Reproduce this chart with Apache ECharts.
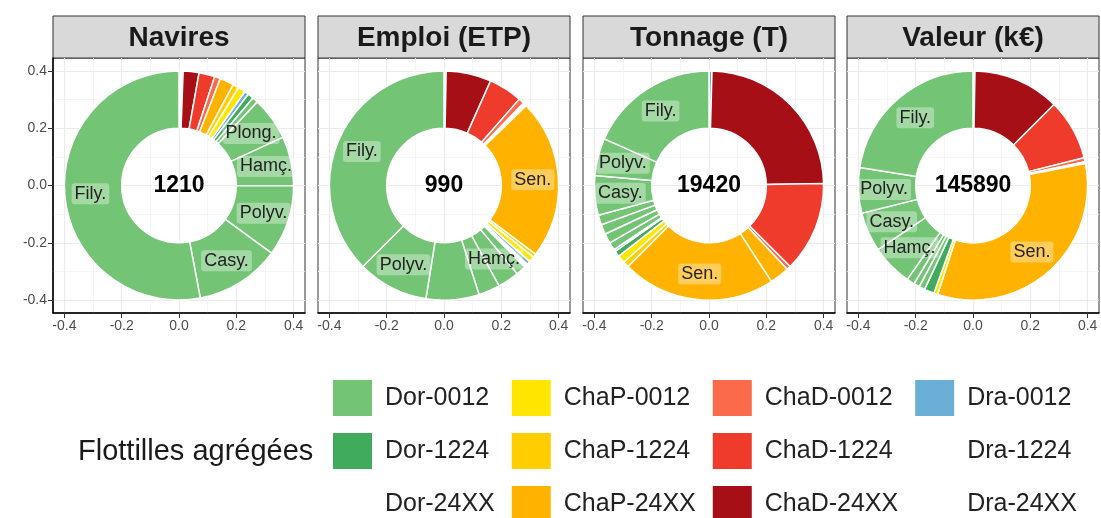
<!DOCTYPE html>
<html>
<head>
<meta charset="utf-8">
<script src="https://cdn.jsdelivr.net/npm/echarts@6/dist/echarts.min.js"></script>
<style>
  html, body { margin: 0; padding: 0; background: #fff; }
  #chart { width: 1101px; height: 518px; }
</style>
</head>
<body>
<div id="chart"></div>
<script>
// facettes et totaux affichés au centre
const panels = ['Navires', 'Emploi (ETP)', 'Tonnage (T)', 'Valeur (k€)'];
const totals = [1210, 990, 19420, 145890];

// flottilles agrégées (ordre de la légende) et couleurs
const flottilles = ['Dor-0012', 'Dor-1224', 'Dor-24XX', 'ChaP-0012', 'ChaP-1224', 'ChaP-24XX',
  'ChaD-0012', 'ChaD-1224', 'ChaD-24XX', 'Dra-0012', 'Dra-1224', 'Dra-24XX'];
const couleurs = ['#74C476', '#41AB5D', '#FFFFFF', '#FFE600', '#FFCD00', '#FFB300',
  '#FB6A4A', '#EF3B2C', '#A50F15', '#6BAED6', '#FFFFFF', '#FFFFFF'];

// graduations
const majorTicks = [-0.4, -0.2, 0, 0.2, 0.4];
const minorTicks = [-0.3, -0.1, 0.1, 0.3];

// Navires
const navFlot = ['Dra-24XX', 'ChaD-24XX', 'ChaD-1224', 'ChaD-0012', 'ChaP-24XX', 'ChaP-1224', 'ChaP-0012',
  'Dra-0012', 'Dor-1224', 'Dor-0012', 'Dor-0012', 'Dor-0012', 'Dor-0012', 'Dor-0012', 'Dor-0012'];
const navMetier = ['', '', '', '', '', '', '', '', '', '', 'Plong.', 'Hamç.', 'Polyv.', 'Casy.', 'Fily.'];
const navValues = [7, 27, 27, 10, 24, 10, 13, 7, 10, 10, 74, 84, 121, 145, 641];

// Emploi (ETP)
const empFlot = ['Dra-0012', 'ChaD-24XX', 'ChaD-1224', 'ChaD-0012', 'Dra-1224', 'ChaP-24XX', 'ChaP-1224',
  'ChaP-0012', 'Dra-0012', 'Dor-24XX', 'Dor-0012', 'Dor-0012', 'Dor-0012', 'Dor-0012', 'Dor-0012', 'Dor-0012'];
const empMetier = ['', '', '', '', '', 'Sen.', '', '', '', '', '', 'Hamç.', '', 'Casy.', 'Polyv.', 'Fily.'];
const empValues = [3, 63, 47, 8, 5, 223, 5, 8, 5, 5, 14, 30, 30, 74, 99, 371];

// Tonnage (T)
const tonFlot = ['Dra-0012', 'ChaD-24XX', 'ChaD-1224', 'ChaD-0012', 'ChaP-24XX', 'ChaP-24XX', 'ChaP-1224',
  'ChaP-0012', 'Dor-1224', 'Dra-0012', 'Dor-0012', 'Dor-0012', 'Dor-0012', 'Dor-0012', 'Dor-0012', 'Dor-0012', 'Dor-0012'];
const tonMetier = ['', '', '', '', '', 'Sen.', '', '', '', '', '', '', '', '', 'Casy.', 'Polyv.', 'Fily.'];
const tonValues = [81, 4720, 2481, 108, 539, 4207, 162, 216, 162, 54, 216, 270, 270, 270, 1079, 1025, 3560];

// Valeur (k€)
const valFlot = ['Dra-1224', 'ChaD-24XX', 'ChaD-1224', 'ChaD-0012', 'Dra-24XX', 'ChaP-24XX', 'ChaP-0012',
  'Dor-1224', 'Dor-0012', 'Dor-0012', 'Dor-0012', 'Dor-0012', 'Dor-0012', 'Dor-0012', 'Dor-0012'];
const valMetier = ['', '', '', '', '', 'Sen.', '', '', '', '', '', 'Hamç.', 'Casy.', 'Polyv.', 'Fily.'];
const valValues = [405, 17831, 12563, 810, 405, 48225, 810, 2026, 1216, 1216, 1621, 8510, 8105, 9321, 32826];

const panelFlot = [navFlot, empFlot, tonFlot, valFlot];
const panelMetier = [navMetier, empMetier, tonMetier, valMetier];
const panelValues = [navValues, empValues, tonValues, valValues];

// mise en page
const font = '"Liberation Sans", Arial, sans-serif';
const panelLeft = [53, 318, 583, 847];
const panelTop = 58, panelW = 252, panelH = 255;
const stripTop = 16, stripH = 42;
const yLim = 0.445;
const xLim = yLim * panelW / panelH; // même échelle sur les deux axes
const ppu = panelH / (2 * yLim); // pixels par unité
const r0 = 0.2, r1 = 0.4; // rayons de l'anneau

const chart = echarts.init(document.getElementById('chart'));

function minorAxis (i, lim, pos) {
  return {
    type: 'value', gridIndex: i, min: -lim, max: lim, position: pos,
    axisLine: { show: false, onZero: false },
    axisTick: { show: false, customValues: minorTicks },
    axisLabel: { show: false, customValues: minorTicks },
    splitLine: { show: true, lineStyle: { color: '#F3F3F3', width: 0.8 } }
  };
}

function majorAxis (i, lim, pos, showAxis) {
  return {
    type: 'value', gridIndex: i, min: -lim, max: lim, position: pos,
    axisLine: { show: showAxis, onZero: false, lineStyle: { color: '#000', width: 1.5 } },
    axisTick: { show: showAxis, length: 5, customValues: majorTicks, lineStyle: { color: '#333' } },
    axisLabel: {
      show: showAxis, customValues: majorTicks, margin: 6,
      fontSize: 14, color: '#4D4D4D', fontFamily: font,
      formatter: v => v.toFixed(1)
    },
    splitLine: { show: true, lineStyle: { color: '#EBEBEB', width: 1.2 } }
  };
}

const grids = [], xAxes = [], yAxes = [], series = [], graphics = [];

panels.forEach((p, i) => {
  grids.push({
    left: panelLeft[i], top: panelTop, width: panelW, height: panelH,
    show: true, borderColor: '#333', borderWidth: 1, backgroundColor: '#fff'
  });
  xAxes.push(minorAxis(i, xLim, 'top'));
  yAxes.push(minorAxis(i, yLim, 'right'));
  xAxes.push(majorAxis(i, xLim, 'bottom', true));
  yAxes.push(majorAxis(i, yLim, 'left', i === 0));

  const data = panelValues[i].map((v, k) => {
    const fl = panelFlot[i][k];
    const met = panelMetier[i][k];
    return {
      name: fl,
      value: v,
      metier: met,
      itemStyle: { color: couleurs[flottilles.indexOf(fl)] },
      label: { show: met !== '' }
    };
  });

  const cx = panelLeft[i] + panelW / 2;
  const cy = panelTop + panelH / 2;

  series.push({
    type: 'pie',
    center: [cx, cy],
    radius: [r0 * ppu, r1 * ppu],
    startAngle: 90,
    clockwise: true,
    avoidLabelOverlap: false,
    emphasis: { disabled: true },
    labelLine: { show: false },
    itemStyle: { borderColor: '#fff', borderWidth: 1.5 },
    label: {
      position: 'inside',
      formatter: prm => prm.data.metier,
      fontSize: 18,
      fontFamily: font,
      color: '#222',
      backgroundColor: 'rgba(255,255,255,0.35)',
      padding: [2, 3, 1, 3],
      borderRadius: 3
    },
    data: data
  });

  // bandeau de facette
  graphics.push({
    type: 'rect',
    shape: { x: panelLeft[i], y: stripTop, width: panelW, height: stripH },
    style: { fill: '#D9D9D9', stroke: '#333', lineWidth: 1 }
  });
  graphics.push({
    type: 'text',
    x: cx, y: stripTop + stripH / 2 + 1,
    style: {
      text: p, fontSize: 28, fontWeight: 'bold', fontFamily: font, fill: '#1A1A1A',
      textAlign: 'center', textVerticalAlign: 'middle'
    }
  });
  // total au centre
  graphics.push({
    type: 'text',
    x: cx, y: cy,
    z: 10,
    style: {
      text: String(totals[i]), fontSize: 23, fontWeight: 'bold', fontFamily: font, fill: '#000',
      textAlign: 'center', textVerticalAlign: 'middle'
    }
  });
});

// titre de la légende
graphics.push({
  type: 'text',
  x: 78, y: 452,
  style: {
    text: 'Flottilles agrégées', fontSize: 29, fontFamily: font, fill: '#1A1A1A',
    textAlign: 'left', textVerticalAlign: 'middle'
  }
});

chart.setOption({
  animation: false,
  backgroundColor: '#fff',
  grid: grids,
  xAxis: xAxes,
  yAxis: yAxes,
  legend: {
    data: flottilles,
    orient: 'vertical',
    left: 333,
    top: 380,
    height: 160,
    padding: 0,
    itemWidth: 39,
    itemHeight: 36,
    itemGap: 17,
    icon: 'rect',
    selectedMode: false,
    itemStyle: { borderWidth: 0 },
    textStyle: { fontSize: 25, color: '#222', fontFamily: font, padding: [0, 0, 0, 8] }
  },
  series: series,
  graphic: graphics
});
</script>
</body>
</html>
